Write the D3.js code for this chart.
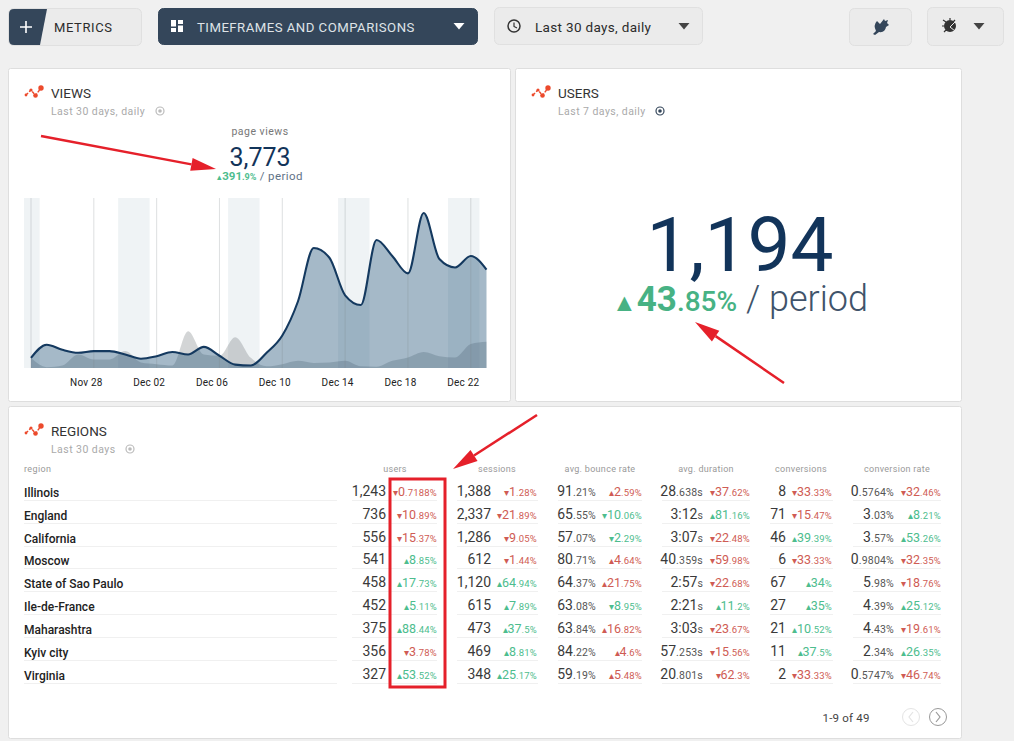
<!DOCTYPE html>
<html>
<head>
<meta charset="utf-8">
<script src="https://cdn.jsdelivr.net/npm/d3@7"></script>
<style>
  html, body { margin: 0; padding: 0; background: #f0f0f0; }
  svg { display: block; font-family: Roboto, sans-serif; }
</style>
</head>
<body>
<svg id="page" width="1014" height="741"></svg>
<script>
// views chart, Nov 24 .. Dec 23
const dayLabels = ["Nov 24","Nov 25","Nov 26","Nov 27","Nov 28","Nov 29","Nov 30","Dec 01","Dec 02","Dec 03",
  "Dec 04","Dec 05","Dec 06","Dec 07","Dec 08","Dec 09","Dec 10","Dec 11","Dec 12","Dec 13",
  "Dec 14","Dec 15","Dec 16","Dec 17","Dec 18","Dec 19","Dec 20","Dec 21","Dec 22","Dec 23"];
const viewsNow = [24,55,43,36,40,40,32,22,28,38,32,50,29,8,6,36,77,158,284,261,172,149,303,265,224,367,258,238,265,233];
const viewsPrev = [24,2,6,32,20,20,40,13,9,6,87,32,29,73,24,4,9,17,12,13,17,4,3,17,25,38,28,25,57,62];
const tickDays = ["Nov 24","Nov 28","Dec 02","Dec 06","Dec 10","Dec 14","Dec 18","Dec 22"];
const weekendDays = ["Nov 22","Nov 29","Dec 06","Dec 13","Dec 20"];

// regions table
const regions = ["Illinois","England","California","Moscow","State of Sao Paulo","Ile-de-France","Maharashtra","Kyiv city","Virginia"];
const users = ["1,243","736","556","541","458","452","375","356","327"];
const usersDelta = ["-0.7188","-10.89","-15.37","8.85","17.73","5.11","88.44","-3.78","53.52"];
const sessions = ["1,388","2,337","1,286","612","1,120","615","473","469","348"];
const sessionsDelta = ["-1.28","-21.89","-9.05","-1.44","64.94","7.89","37.5","8.81","25.17"];
const bounce = ["91.21%","65.55%","57.07%","80.71%","64.37%","63.08%","63.84%","84.22%","59.19%"];
const bounceDelta = ["2.59","-10.06","-2.29","4.64","21.75","-8.95","16.82","4.6","5.48"];
const duration = ["28.638s","3:12s","3:07s","40.359s","2:57s","2:21s","3:03s","57.253s","20.801s"];
const durationDelta = ["-37.62","81.16","-22.48","-59.98","-22.68","11.2","-23.67","-15.56","-62.3"];
const conversions = ["8","71","46","6","67","27","21","11","2"];
const conversionsDelta = ["-33.33","-15.47","39.39","-33.33","34","35","10.52","37.5","-33.33"];
const convRate = ["0.5764%","3.03%","3.57%","0.9804%","5.98%","4.39%","4.43%","2.34%","0.5747%"];
const convRateDelta = ["-32.46","8.21","53.26","-32.35","-18.76","25.12","-19.61","26.35","-46.74"];

const tableCols = [
  { name: "users", values: users, deltas: usersDelta, good: 1, left: 352, valueEnd: 386, right: 437, head: 395 },
  { name: "sessions", values: sessions, deltas: sessionsDelta, good: 1, left: 457, valueEnd: 491, right: 538, head: 497 },
  { name: "avg. bounce rate", values: bounce, deltas: bounceDelta, good: -1, left: 558, valueEnd: 596, right: 642, head: 600 },
  { name: "avg. duration", values: duration, deltas: durationDelta, good: 1, left: 662, valueEnd: 703, right: 750, head: 706 },
  { name: "conversions", values: conversions, deltas: conversionsDelta, good: 1, left: 770, valueEnd: 786, right: 833, head: 801 },
  { name: "conversion rate", values: convRate, deltas: convRateDelta, good: 1, left: 853, valueEnd: 894, right: 941, head: 897 }
];

const red = "#cf5c54", green = "#4dbd8e", navy = "#12345a", slate = "#34465a";
const svg = d3.select("#page");

function txt(parent, x, y, str, size, color, opts = {}) {
  return parent.append("text").attr("x", x).attr("y", y).text(str)
    .attr("font-size", size).attr("fill", color)
    .attr("text-anchor", opts.anchor || "start")
    .attr("font-weight", opts.weight || 400)
    .attr("letter-spacing", opts.spacing || null);
}

function caret(cx, cy, color, w = 5.5) {
  svg.append("path").attr("d", `M${cx - w},${cy - 3}L${cx + w},${cy - 3}L${cx},${cy + 3.5}Z`).attr("fill", color);
}

function button(x, y, w, h, fill) {
  svg.append("rect").attr("x", x + .5).attr("y", y + .5).attr("width", w).attr("height", h).attr("rx", 5)
    .attr("fill", fill).attr("stroke", fill === slate ? slate : "#e0e0e0");
}

// ---- top bar
button(8, 8, 133, 37, "#ebebeb");
svg.append("path").attr("d", "M14,9L47,9L40,45L14,45Q9,45 9,40L9,14Q9,9 14,9Z").attr("fill", slate);
svg.append("path").attr("d", "M26,21V33M20,27H32").attr("stroke", "#fff").attr("stroke-width", 1.6);
txt(svg, 54, 32, "METRICS", 13, "#2b2b2b", { spacing: .6 });

button(158, 8, 319, 36, slate);
svg.append("path").attr("d", "M171,20h5v6.5h-5zM171,28h5v4h-5zM178,20h5v4h-5zM178,25.5h5v6.5h-5z").attr("fill", "#fff");
txt(svg, 197, 32, "TIMEFRAMES AND COMPARISONS", 13.2, "#dfe3e7", { spacing: .47 });
caret(459, 26, "#fff");

button(494, 7, 208, 37, "#ebebeb");
svg.append("circle").attr("cx", 514).attr("cy", 26).attr("r", 6).attr("fill", "none").attr("stroke", "#333").attr("stroke-width", 1.5);
svg.append("path").attr("d", "M514,22.5V26.5L517,28").attr("fill", "none").attr("stroke", "#333").attr("stroke-width", 1.2);
txt(svg, 535, 32, "Last 30 days, daily", 13.5, "#2b2b2b", { spacing: .33 });
caret(684, 26, "#444");

button(849, 8, 62, 37, "#ebebeb");
svg.append("path").attr("d", "M873,34L876,31Q873,25 877,21L880,24L884,19L885,21L888,20L887,23L889,25L886,27Q885,33 879,32L875,35Z").attr("fill", slate);

button(927, 7, 76, 38, "#ebebeb");
svg.append("circle").attr("cx", 950).attr("cy", 26).attr("r", 6).attr("fill", "#333");
svg.append("path").attr("d", "M943,20L946,22M942,26H944M950,18V20M944,32L946,30M955,20L953,22").attr("stroke", "#333").attr("stroke-width", 1.2);
svg.append("path").attr("d", "M955,22L950,27L955,31").attr("fill", "none").attr("stroke", "#ebebeb").attr("stroke-width", 1);
caret(979, 26, "#444");

// ---- cards
const cards = [[8, 68, 502, 333], [515, 68, 446, 333], [8, 406, 953, 332]];
svg.selectAll("rect.card").data(cards).join("rect").attr("class", "card")
  .attr("x", d => d[0] + .5).attr("y", d => d[1] + .5).attr("width", d => d[2]).attr("height", d => d[3])
  .attr("rx", 2).attr("fill", "#fff").attr("stroke", "#dedede");

function cardTitle(x, y, title, sub, iconColor, iconEnd) {
  const trendLine = d3.line().x(d => d[0]).y(d => d[1]);
  const pts = [[x + 1, y + 1], [x + 6, y - 4], [x + 10.5, y + 1.5], [x + 16, y - 6]];
  svg.append("path").attr("d", trendLine(pts)).attr("fill", "none").attr("stroke", "#ec4a2c").attr("stroke-width", 1.4).attr("stroke-dasharray", "3 1.5");
  svg.selectAll(null).data(pts).join("circle").attr("cx", d => d[0]).attr("cy", d => d[1])
    .attr("r", (d, i) => [1.4, 1.6, 2.3, 2.7][i]).attr("fill", "#ec4a2c");
  txt(svg, x + 26, y + 4, title, 13.5, "#333");
  txt(svg, x + 26, y + 21, sub, 10.5, "#aaa", { spacing: .45 });
  svg.append("circle").attr("cx", iconEnd).attr("cy", y + 17).attr("r", 4).attr("fill", "none").attr("stroke", iconColor).attr("stroke-width", 1.2);
  svg.append("circle").attr("cx", iconEnd).attr("cy", y + 17).attr("r", 1.8).attr("fill", iconColor);
}
cardTitle(25, 94, "VIEWS", "Last 30 days, daily", "#bbb", 160);
cardTitle(532, 94, "USERS", "Last 7 days, daily", "#34465a", 660);
cardTitle(25, 432, "REGIONS", "Last 30 days", "#bbb", 130);

// ---- views summary
txt(svg, 260, 135, "page views", 10.5, "#777", { anchor: "middle", spacing: .5 });
txt(svg, 260, 166, "3,773", 25, navy, { anchor: "middle" });
const viewsDelta = txt(svg, 260, 180, "", 11.5, green, { anchor: "middle" });
viewsDelta.append("tspan").text("▴").attr("font-size", 8.5);
viewsDelta.append("tspan").text("391").attr("font-weight", 700);
viewsDelta.append("tspan").text(".9%").attr("font-size", 9).attr("font-weight", 700);
viewsDelta.append("tspan").text(" / period").attr("fill", "#5f7286").attr("letter-spacing", .4);

// ---- views chart
const parseDay = d3.timeParse("%b %d %Y");
const toDate = s => parseDay(s + " 2018");
const dates = dayLabels.map(toDate);
const x = d3.scaleTime().domain([dates[0], dates[29]]).range([31, 486.5]);
const y = d3.scaleLinear().domain([0, 400]).range([368, 199]);
const chart = svg.append("g");
const dayPx = x(dates[1]) - x(dates[0]);

chart.selectAll("rect.weekend").data(weekendDays).join("rect").attr("class", "weekend")
  .attr("x", d => Math.max(24, x(toDate(d)) + .55 * dayPx))
  .attr("width", d => x(toDate(d)) + 2.55 * dayPx - Math.max(24, x(toDate(d)) + .55 * dayPx))
  .attr("y", 198).attr("height", 170).attr("fill", "#eff3f5");

chart.append("path").datum(viewsPrev)
  .attr("d", d3.area().x((d, i) => x(dates[i])).y0(y(0)).y1(d => y(d)).curve(d3.curveMonotoneX))
  .attr("fill", "#6d7478").attr("opacity", .3);
chart.append("path").datum(viewsNow)
  .attr("d", d3.area().x((d, i) => x(dates[i])).y0(y(0)).y1(d => y(d)).curve(d3.curveMonotoneX))
  .attr("fill", "#1f5076").attr("opacity", .4);

chart.selectAll("line.grid").data(tickDays).join("line").attr("class", "grid")
  .attr("x1", d => x(toDate(d))).attr("x2", d => x(toDate(d)))
  .attr("y1", 198).attr("y2", 368).attr("stroke", "#7d8486").attr("stroke-opacity", .25).attr("stroke-width", 1);

chart.append("path").datum(viewsNow)
  .attr("d", d3.line().x((d, i) => x(dates[i])).y(d => y(d)).curve(d3.curveMonotoneX))
  .attr("fill", "none").attr("stroke", "#14395f").attr("stroke-width", 2.1);

const axis = d3.axisBottom(x).tickValues(tickDays.slice(1).map(toDate)).tickFormat(d3.timeFormat("%b %d")).tickSize(0);
const axisG = chart.append("g").attr("transform", "translate(-8,368)").call(axis);
axisG.select(".domain").remove();
axisG.selectAll("text").attr("font-family", "Roboto, sans-serif").attr("font-size", 10).attr("fill", "#222").attr("dy", 15).attr("letter-spacing", .2);

// ---- users summary
txt(svg, 740, 271, "1,194", 76.5, navy, { anchor: "middle" });
const usersTotal = txt(svg, 740, 311, "", 35, "#47b284", { anchor: "middle" });
usersTotal.append("tspan").text("▲").attr("font-size", 25);
usersTotal.append("tspan").text("43").attr("font-weight", 700);
usersTotal.append("tspan").text(".85%").attr("font-size", 28).attr("font-weight", 500);
usersTotal.append("tspan").text(" / period").attr("fill", "#40536a").attr("font-weight", 300).attr("font-size", 36);

// ---- regions table
const rowLine = i => 500 + 23 * i - (i >= 3 ? 1 : 0);

txt(svg, 24, 472, "region", 9, "#999", { spacing: .4 });
regions.forEach((r, i) => {
  svg.append("line").attr("x1", 24).attr("x2", 337).attr("y1", rowLine(i) + .5).attr("y2", rowLine(i) + .5).attr("stroke", "#f0f0f0");
  txt(svg, 24, rowLine(i) - 3, r, 12, "#222", { weight: 500 });
});

// first run of digits is big, the rest small
const splitNum = s => s.match(/^([\d,:]+)(.*)$/).slice(1);

tableCols.forEach(col => {
  txt(svg, col.head, 472, col.name, 9, "#999", { anchor: "middle", spacing: .3 });
  col.values.forEach((v, i) => {
    const base = rowLine(i) - 4;
    svg.append("line").attr("x1", col.left).attr("x2", col.right).attr("y1", rowLine(i) + .5).attr("y2", rowLine(i) + .5).attr("stroke", "#f0f0f0");
    const [big, small] = splitNum(v);
    const valueText = txt(svg, col.valueEnd, base, "", 14, "#3a3a3a", { anchor: "end" });
    valueText.append("tspan").text(big);
    valueText.append("tspan").text(small).attr("font-size", 10.5).attr("letter-spacing", .2).attr("fill", "#555");

    const raw = col.deltas[i];
    const up = !raw.startsWith("-");
    const [dBig, dSmall] = splitNum(raw.replace("-", "") + "%");
    const color = (up ? 1 : -1) * col.good > 0 ? green : red;
    const deltaText = txt(svg, col.right - (col.right === 538 || col.right === 833 ? 1 : 0), base, "", 12.5, color, { anchor: "end" });
    deltaText.append("tspan").text(up ? "▴" : "▾").attr("font-size", 9.5);
    deltaText.append("tspan").text(dBig);
    deltaText.append("tspan").text(dSmall).attr("font-size", 9.5).attr("letter-spacing", .2);
  });
});

// pager
txt(svg, 822.5, 722, "1-9 of 49", 11.5, "#444", { spacing: .2 });
const pager = [[911, "#e4e4e4", "M913,712L909,717L913,722"], [938, "#999", "M936,712L940,717L936,722"]];
pager.forEach(([cx, color, d]) => {
  svg.append("circle").attr("cx", cx).attr("cy", 717).attr("r", 8.5).attr("fill", "none").attr("stroke", color);
  svg.append("path").attr("d", d).attr("fill", "none").attr("stroke", color).attr("stroke-width", 1.2);
});

// ---- red annotations
const annotRed = "#e5202a";
function arrow(x1, y1, x2, y2) {
  const a = Math.atan2(y2 - y1, x2 - x1), len = 25, half = 6.5;
  const bx = x2 - len * Math.cos(a), by = y2 - len * Math.sin(a);
  svg.append("line").attr("x1", x1).attr("y1", y1).attr("x2", bx).attr("y2", by).attr("stroke", annotRed).attr("stroke-width", 2.5);
  svg.append("path").attr("d", `M${x2},${y2}L${bx - half * Math.sin(a)},${by + half * Math.cos(a)}L${bx + half * Math.sin(a)},${by - half * Math.cos(a)}Z`).attr("fill", annotRed);
}
arrow(41, 136, 216, 169);
arrow(784, 383, 695, 322);
arrow(537, 415, 453, 469);
svg.append("rect").attr("x", 390).attr("y", 479).attr("width", 55).attr("height", 208)
  .attr("fill", "none").attr("stroke", annotRed).attr("stroke-width", 3);
</script>
</body>
</html>
